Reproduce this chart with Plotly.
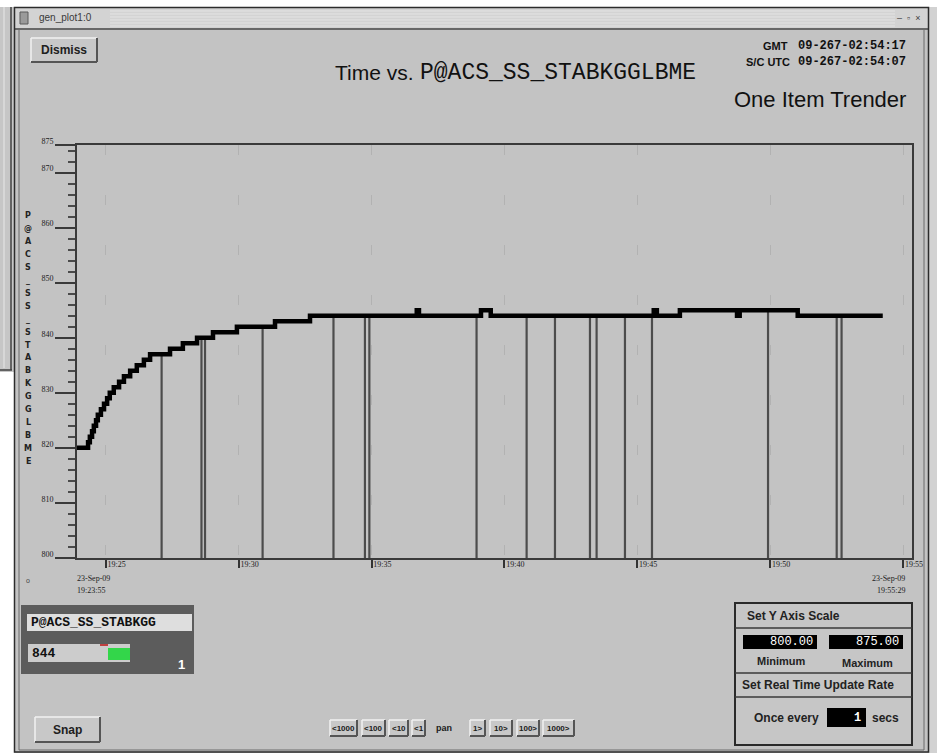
import numpy as np
import pandas as pd
import plotly.graph_objects as go

W, H = 937, 753
DAY = "2009-09-23 "

# ---- telemetry samples (step trace) ----
step_times = ["19:23:55", "19:24:20", "19:24:24", "19:24:29", "19:24:33", "19:24:38",
              "19:24:42", "19:24:49", "19:24:56", "19:25:03", "19:25:09", "19:25:18",
              "19:25:30", "19:25:41", "19:25:55", "19:26:10", "19:26:26", "19:26:40",
              "19:27:25", "19:27:54", "19:28:26", "19:29:02", "19:29:56", "19:31:22",
              "19:32:41", "19:36:42", "19:36:47", "19:39:07", "19:39:29", "19:45:37",
              "19:45:44", "19:46:36", "19:48:45", "19:48:51", "19:51:02", "19:54:14"]
step_values = [820, 821, 822, 823, 824, 825, 826, 827, 828, 829, 830, 831,
               832, 833, 834, 835, 836, 837, 838, 839, 840, 841, 842, 843,
               844, 845, 844, 845, 844, 845, 844, 845, 844, 845, 844, 844]

# ---- data dropouts (drawn as drops to the axis floor) ----
dropout_times = ["19:27:06", "19:28:36", "19:28:44", "19:30:54", "19:33:34", "19:34:45",
                 "19:34:55", "19:38:57", "19:40:50", "19:41:54", "19:43:13", "19:43:28",
                 "19:44:32", "19:45:33", "19:49:55", "19:52:30", "19:52:41"]

# ---- axis settings ----
y_min, y_max = 800.00, 875.00
y_tickvals = [800, 810, 820, 830, 840, 850, 860, 870, 875]
x_start, x_end = "19:23:55", "19:55:20"
x_tickvals = ["19:25", "19:30", "19:35", "19:40", "19:45", "19:50", "19:55"]
start_label = ["23-Sep-09", "19:23:55"]
end_label = ["23-Sep-09", "19:55:29"]

item_name = "P@ACS_SS_STABKGGLBME"
short_name = "P@ACS_SS_STABKGG"
gmt_text = "09-267-02:54:17"
utc_text = "09-267-02:54:07"
update_secs = 1

BG = "#c3c3c3"

t_step = pd.to_datetime([DAY + t for t in step_times])
t_drop = pd.to_datetime([DAY + t for t in dropout_times])
idx = np.searchsorted(t_step.values, t_drop.values, side="right") - 1
drop_vals = [step_values[i] for i in idx]

dx, dy = [], []
for t, v in zip(t_drop, drop_vals):
    dx += [t, t, None]
    dy += [y_min, v, None]

fig = go.Figure()
fig.add_trace(go.Scatter(x=dx, y=dy, mode="lines", line=dict(color="#4c4c4c", width=2.2),
                         hoverinfo="skip", showlegend=False))
fig.add_trace(go.Scatter(x=t_step, y=step_values, mode="lines",
                         line=dict(color="#000000", width=4.5, shape="hv"),
                         showlegend=False))

shapes, annos = [], []


def px(x):
    return x / W


def py(y):
    return 1 - y / H


def rect(x0, y0, x1, y1, fill=None, line=None, lw=1):
    shapes.append(dict(type="rect", xref="paper", yref="paper",
                       x0=px(x0), x1=px(x1), y0=py(y1), y1=py(y0),
                       fillcolor=fill if fill else "rgba(0,0,0,0)",
                       line=dict(color=line if line else "rgba(0,0,0,0)", width=lw if line else 0)))


def seg(x0, y0, x1, y1, color, lw=1):
    shapes.append(dict(type="line", xref="paper", yref="paper",
                       x0=px(x0), x1=px(x1), y0=py(y0), y1=py(y1),
                       line=dict(color=color, width=lw)))


def text(x, y, s, size=11, color="#000000", family="Liberation Sans",
         xanchor="left", weight="normal"):
    annos.append(dict(x=px(x), y=py(y), xref="paper", yref="paper", text=s,
                      showarrow=False, xanchor=xanchor, yanchor="middle",
                      font=dict(size=size, color=color, family=family, weight=weight)))


def button(x0, y0, x1, y1, label, size=12, weight="bold"):
    rect(x0, y0, x1, y1, fill="#c8c8c8")
    seg(x0, y0, x1, y0, "#f2f2f2", 1.5)
    seg(x0, y0, x0, y1, "#f2f2f2", 1.5)
    seg(x0, y1, x1, y1, "#555555", 2)
    seg(x1, y0, x1, y1, "#555555", 2)
    text((x0 + x1) / 2, (y0 + y1) / 2, label, size=size, xanchor="center",
         weight=weight, color="#202020")


# window surroundings
rect(0, 0, W, 7, fill="#ffffff")
rect(0, 7, 14, 372, fill="#c6c6c6")
seg(4, 7, 4, 368, "#e8e8e8", 1)
seg(11, 7, 11, 370, "#404040", 1.5)
seg(0, 370, 12, 370, "#404040", 1.5)
rect(0, 372, 14, H, fill="#ffffff")
rect(929, 7, W, H, fill="#d2d2d2")

# main window frame and title bar
rect(15, 8, 928, 28, fill="#d3d3d3")
for yy in range(11, 27, 3):
    seg(110, yy, 895, yy, "#e4e4e4", 1)
seg(15, 29, 928, 29, "#4a4a4a", 1.5)
rect(14.5, 7.5, 928.5, 752, line="#2c2c2c", lw=1.5)
seg(19, 30, 19, 750, "#6a6a6a", 1)
seg(924, 30, 924, 750, "#6a6a6a", 1)
seg(19, 750, 924, 750, "#6a6a6a", 1)
rect(20, 12, 28, 24, fill="#9a9a9a", line="#5a5a5a", lw=1)
text(37, 18, "gen_plot1:0", size=10, color="#3a3a3a")
text(922, 18, "–  ▫  ×", size=9, color="#404040", xanchor="right")

# header
button(31, 38, 97, 62, "Dismiss", size=12)
text(333, 72, "Time vs.", size=21, color="#111111")
text(418, 73, item_name, size=23, family="Liberation Mono", color="#111111")
text(790, 46, "GMT", size=11, color="#111111", xanchor="right", weight="bold")
text(908, 46, gmt_text, size=12, family="Liberation Mono", color="#111111",
     xanchor="right", weight="bold")
text(792, 62, "S/C UTC", size=11, color="#111111", xanchor="right", weight="bold")
text(908, 62, utc_text, size=12, family="Liberation Mono", color="#111111",
     xanchor="right", weight="bold")
text(908, 99, "One Item Trender", size=22, color="#111111", xanchor="right")

# y axis title, one character per row
for i, ch in enumerate(item_name):
    text(28, 216 + i * 12.9, ch, size=8, color="#222222", family="DejaVu Sans",
         xanchor="center", weight="bold")
text(28, 580, "o", size=7, color="#444444", xanchor="center")

# start / end time labels under the x axis
x0p, x1p = 77, 912
text(75, 578, start_label[0], size=8, family="Liberation Serif", color="#222222")
text(75, 590, start_label[1], size=8, family="Liberation Serif", color="#222222")
text(907, 578, end_label[0], size=8, family="Liberation Serif", color="#222222", xanchor="right")
text(907, 590, end_label[1], size=8, family="Liberation Serif", color="#222222", xanchor="right")

# current value panel
rect(21, 605, 194, 674, fill="#5c5c5c")
rect(27, 614, 192, 631, fill="#dedede")
text(29, 622, short_name, size=13, family="Liberation Mono", weight="bold", color="#111111")
rect(28, 644, 130, 662, fill="#cccccc")
rect(108, 648, 130, 660, fill="#33d64a")
seg(100, 645, 108, 645, "#c04040", 2)
text(30, 653, str(step_values[-1]), size=13, family="Liberation Mono",
     weight="bold", color="#111111")
text(181, 664, "1", size=13, weight="bold", color="#ffffff", xanchor="center")

# bottom buttons
button(35, 717, 100, 742, "Snap", size=12)
pan = [("<1000", 330, 357), ("<100", 362, 385), ("<10", 389, 408), ("<1", 412, 425),
       ("pan", 429, 458), ("1>", 470, 485), ("10>", 490, 512), ("100>", 517, 539),
       ("1000>", 543, 574)]
for lab, a, b in pan:
    if lab == "pan":
        text((a + b) / 2, 728, lab, size=9, xanchor="center", color="#202020", weight="bold")
    else:
        button(a, 720, b, 736, lab, size=8)

# y scale / update rate panel
rect(735, 603, 912, 745, fill="#c6c6c6", line="#2a2a2a", lw=2)
seg(735, 628, 912, 628, "#3a3a3a", 1.5)
seg(735, 673, 912, 673, "#3a3a3a", 1.5)
seg(735, 697, 912, 697, "#3a3a3a", 1.5)
text(745, 616, "Set Y Axis Scale", size=12, weight="bold", color="#222222")
rect(743, 635, 817, 649, fill="#000000")
rect(829, 635, 903, 649, fill="#000000")
text(815, 642, f"{y_min:.2f}", size=12, family="Liberation Mono", color="#ffffff", xanchor="right")
text(901, 642, f"{y_max:.2f}", size=12, family="Liberation Mono", color="#ffffff", xanchor="right")
text(781, 661, "Minimum", size=11, weight="bold", color="#222222", xanchor="center")
text(867, 663, "Maximum", size=11, weight="bold", color="#222222", xanchor="center")
text(740, 685, "Set Real Time Update Rate", size=12, weight="bold", color="#222222")
text(752, 718, "Once every", size=12, weight="bold", color="#222222")
rect(827, 708, 866, 727, fill="#000000")
text(863, 718, str(update_secs), size=12, family="Liberation Mono", color="#ffffff",
     xanchor="right", weight="bold")
text(870, 718, "secs", size=12, weight="bold", color="#222222")

fig.update_layout(
    width=W, height=H, autosize=False,
    margin=dict(l=0, r=0, t=0, b=0, autoexpand=False),
    paper_bgcolor=BG, plot_bgcolor=BG,
    shapes=shapes, annotations=annos,
    showlegend=False,
)
fig.update_xaxes(
    domain=[px(x0p), px(x1p)],
    range=[DAY + x_start, DAY + x_end],
    tickvals=[DAY + t for t in x_tickvals], ticktext=x_tickvals,
    ticks="outside", ticklen=8, tickwidth=1.5, tickcolor="#333333",
    ticklabelposition="outside right", ticklabelstandoff=-3,
    tickfont=dict(size=8, family="Liberation Serif", color="#222222"),
    showline=True, linecolor="#3a3a3a", linewidth=2, mirror=True,
    showgrid=True, gridcolor="#b2b2b2", gridwidth=1, griddash="10px,40px",
    zeroline=False, automargin=False,
)
fig.update_yaxes(
    domain=[py(558), py(145)],
    range=[y_min, y_max],
    tickvals=y_tickvals, ticktext=[str(v) for v in y_tickvals],
    ticks="outside", ticklen=20, tickwidth=1.5, tickcolor="#3a3a3a",
    ticklabelposition="outside", ticklabelshift=-4, ticklabelstandoff=0,
    tickfont=dict(size=8, family="Liberation Serif", color="#222222"),
    minor=dict(dtick=2, tick0=800, ticks="outside", ticklen=7, tickcolor="#4a4a4a",
               showgrid=False),
    showline=True, linecolor="#3a3a3a", linewidth=2, mirror=True,
    showgrid=False, zeroline=False, automargin=False,
)

fig.write_html("out.html")
